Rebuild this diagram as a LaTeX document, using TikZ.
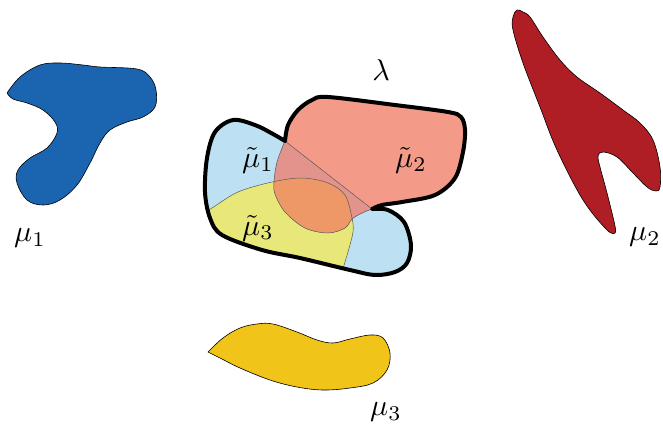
\documentclass[tikz,border=0pt]{standalone}
\definecolor{mublue}{RGB}{26,100,176}
\definecolor{mured}{RGB}{174,30,36}
\definecolor{muyellow}{RGB}{240,196,25}
\definecolor{lblue}{RGB}{189,225,242}
\definecolor{lyellow}{RGB}{232,232,122}
\definecolor{salmon}{RGB}{243,155,136}
\definecolor{pinkov}{RGB}{226,148,140}
\definecolor{orangeov}{RGB}{238,152,104}
\begin{document}
\begin{tikzpicture}[x=1pt,y=-1pt,
  blob/.style={draw=black,line width=0.6pt,line join=round},
  thinl/.style={draw=black!65,line width=0.5pt},
  lbl/.style={scale=3,inner sep=0pt}]
\useasboundingbox (0,0) rectangle (663,426);

% separate measures
\fill[mublue,blob] plot[smooth,tension=0.6] coordinates {(7,93) (20,77) (40,65) (60,63) (83,65) (100,67) (137,69) (150,77) (156,90) (155,107) (143,117) (127,122) (110,130) (100,143) (90,163) (77,185) (60,200) (43,205) (27,200) (17,183) (18,170) (30,158) (47,148) (57,133) (55,122) (43,110) (27,103) (13,99) (7,93)} -- cycle;

\fill[mured,blob] plot[smooth,tension=0.6] coordinates {(615,233) (607,230) (583,200) (557,150) (540,107) (523,63) (513,30) (513,17) (517,10) (523,12) (530,17) (543,37) (560,60) (577,77) (600,93) (623,110) (640,123) (653,140) (660,167) (660,187) (656,191) (647,187) (633,173) (617,157) (603,152) (598,156) (600,167) (607,193) (615,226) (615,233)} -- cycle;

\fill[muyellow,blob] plot[smooth,tension=0.6] coordinates {(208,352) (223,338) (240,328) (257,324) (273,324) (297,332) (317,340) (333,343) (350,339) (370,335) (383,338) (390,353) (387,370) (373,383) (350,388) (323,390) (297,387) (270,380) (240,368) (220,358) (208,352)} -- cycle;

% lambda region
\def\redtop{plot[smooth,tension=0.55] coordinates {(285,141) (288,125) (298,110) (312,100) (328,97) (395,105) (448,112) (461,117) (465,130) (463,152) (455,178) (435,195) (402,202) (382,205) (372,209)}}
\def\bluerest{-- plot[smooth,tension=0.55] coordinates {(372,209) (388,210) (404,222) (411,245) (407,263) (395,272) (375,275) (350,270) (300,258) (262,250) (222,235) (210,218) (205,192) (207,158) (215,132) (233,120) (255,125) (273,134) (285,141)} -- cycle}
\def\redlowc{-- plot[smooth,tension=0.55] coordinates {(372,209) (362,213) (352,219) (345,228) (328,233) (305,228) (285,212) (275,194) (274,182) (277,162) (285,141)} -- cycle}
\def\redlow{plot[smooth,tension=0.55] coordinates {(372,209) (362,213) (352,219) (345,228) (328,233) (305,228) (285,212) (275,194) (274,182) (277,162) (285,141)}}
\def\yline{plot[smooth,tension=0.55] coordinates {(198,216) (212,208) (238,192) (272,182) (302,178) (328,183) (345,195) (352,218) (353,232) (348,252) (343,270) (342,290)}}

\fill[lblue] \redtop \bluerest;
\begin{scope}
  \clip \redtop \bluerest;
  \fill[lyellow] \yline -- (150,290) -- (150,216) -- cycle;
\end{scope}
\fill[salmon] \redtop \redlowc;
\begin{scope}
  \clip \redtop \redlowc;
  \fill[pinkov] (285,141) -- (372,209) -- (420,320) -- (200,320) -- (200,141) -- cycle;
  \fill[orangeov] \yline -- (150,290) -- (150,216) -- cycle;
\end{scope}
\begin{scope}
  \clip \redtop \bluerest;
  \draw[thinl] (285,141) -- (372,209);
  \draw[thinl] \redlow;
  \draw[thinl] \yline;
\end{scope}
\draw[line width=4pt,line join=round] \redtop \bluerest;

% labels
\node[lbl] (lam) at (381,70) {$\lambda$};
\node[lbl] (m1) at (30,238) {$\mu_1$};
\node[lbl] (m2) at (645,237) {$\mu_2$};
\node[lbl] (m3) at (386,412) {$\mu_3$};
\node[lbl] (t1) at (258,160) {$\tilde\mu_1$};
\node[lbl] (t2) at (411,160) {$\tilde\mu_2$};
\node[lbl] (t3) at (258,228) {$\tilde\mu_3$};
\end{tikzpicture}
\end{document}
